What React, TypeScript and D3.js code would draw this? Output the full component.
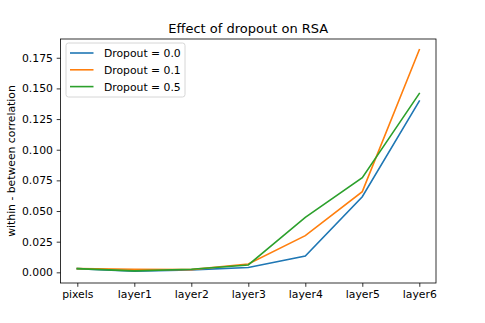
import React, { useEffect, useRef } from "react";
import * as d3 from "d3";

const layers = ["pixels", "layer1", "layer2", "layer3", "layer4", "layer5", "layer6"];
const dropout00 = [0.003, 0.001, 0.002, 0.004, 0.0133, 0.0617, 0.1397];
const dropout01 = [0.003, 0.0025, 0.0022, 0.0068, 0.0299, 0.0658, 0.1816];
const dropout05 = [0.003, 0.0012, 0.0025, 0.006, 0.0449, 0.0772, 0.1458];
const yTicks = [0, 0.025, 0.05, 0.075, 0.1, 0.125, 0.15, 0.175];

const series = [
  { label: "Dropout = 0.0", values: dropout00, color: "#1f77b4" },
  { label: "Dropout = 0.1", values: dropout01, color: "#ff7f0e" },
  { label: "Dropout = 0.5", values: dropout05, color: "#2ca02c" },
];

const W = 485;
const H = 323;
const margin = { left: 60.5, right: 49, top: 39, bottom: 40 };

function App() {
  const svgRef = useRef<SVGSVGElement>(null);

  useEffect(() => {
    const svg = d3.select(svgRef.current);
    svg.selectAll("*").remove();
    const x0 = margin.left;
    const x1 = W - margin.right;
    const y0 = margin.top;
    const y1 = H - margin.bottom;

    const xScale = d3.scalePoint<string>().domain(layers).range([77.3, 419.3]);
    const yScale = d3.scaleLinear().domain([-0.0087, 0.1903]).range([y1, y0]);

    const font = "DejaVu Sans, sans-serif";
    const fs = 10.8;

    // lines
    const line = d3
      .line<number>()
      .x((_, i) => xScale(layers[i]) as number)
      .y((d) => yScale(d));
    const clipId = "plot-clip";
    svg
      .append("clipPath")
      .attr("id", clipId)
      .append("rect")
      .attr("x", x0)
      .attr("y", y0)
      .attr("width", x1 - x0)
      .attr("height", y1 - y0);
    svg
      .append("g")
      .attr("clip-path", `url(#${clipId})`)
      .selectAll("path")
      .data(series)
      .join("path")
      .attr("d", (s) => line(s.values))
      .attr("fill", "none")
      .attr("stroke", (s) => s.color)
      .attr("stroke-width", 1.6)
      .attr("stroke-linecap", "square");

    // axes
    const xAxis = d3.axisBottom(xScale).tickSize(3.8).tickPadding(3.8);
    svg
      .append("g")
      .attr("transform", `translate(0, ${y1})`)
      .call(xAxis)
      .call((g) => g.select(".domain").remove())
      .call((g) => g.selectAll("line").attr("stroke", "#000").attr("stroke-width", 0.8))
      .call((g) =>
        g.selectAll("text").attr("font-family", font).attr("font-size", fs).attr("fill", "#000")
      );

    const yAxis = d3
      .axisLeft(yScale)
      .tickValues(yTicks)
      .tickFormat(d3.format(".3f"))
      .tickSize(3.8)
      .tickPadding(3.8);
    svg
      .append("g")
      .attr("transform", `translate(${x0}, 0)`)
      .call(yAxis)
      .call((g) => g.select(".domain").remove())
      .call((g) => g.selectAll("line").attr("stroke", "#000").attr("stroke-width", 0.8))
      .call((g) =>
        g.selectAll("text").attr("font-family", font).attr("font-size", fs).attr("fill", "#000")
      );

    // frame
    svg
      .append("rect")
      .attr("x", x0)
      .attr("y", y0)
      .attr("width", x1 - x0)
      .attr("height", y1 - y0)
      .attr("fill", "none")
      .attr("stroke", "#000")
      .attr("stroke-width", 0.8);

    // title and label
    svg
      .append("text")
      .attr("x", (x0 + x1) / 2)
      .attr("y", 32.5)
      .attr("text-anchor", "middle")
      .attr("font-family", font)
      .attr("font-size", 13)
      .text("Effect of dropout on RSA");

    svg
      .append("text")
      .attr("transform", `translate(15, ${(y0 + y1) / 2}) rotate(-90)`)
      .attr("text-anchor", "middle")
      .attr("font-family", font)
      .attr("font-size", fs)
      .text("within - between correlation");

    // legend
    const legend = svg.append("g").attr("transform", `translate(66, 43)`);
    legend
      .append("rect")
      .attr("width", 119)
      .attr("height", 54)
      .attr("rx", 2.5)
      .attr("fill", "#fff")
      .attr("fill-opacity", 0.8)
      .attr("stroke", "#cccccc")
      .attr("stroke-width", 0.8);
    const items = legend
      .selectAll("g.item")
      .data(series)
      .join("g")
      .attr("class", "item")
      .attr("transform", (_, i) => `translate(0, ${10 + i * 16.8})`);
    items
      .append("line")
      .attr("x1", 4)
      .attr("x2", 27.5)
      .attr("stroke", (s) => s.color)
      .attr("stroke-width", 1.6);
    items
      .append("text")
      .attr("x", 38)
      .attr("y", 3.9)
      .attr("font-family", font)
      .attr("font-size", fs)
      .text((s) => s.label);
  }, []);

  return (
    <svg
      ref={svgRef}
      width={W}
      height={H}
      style={{ position: "absolute", left: 0, top: 0, background: "#fff" }}
    />
  );
}

export default App;
